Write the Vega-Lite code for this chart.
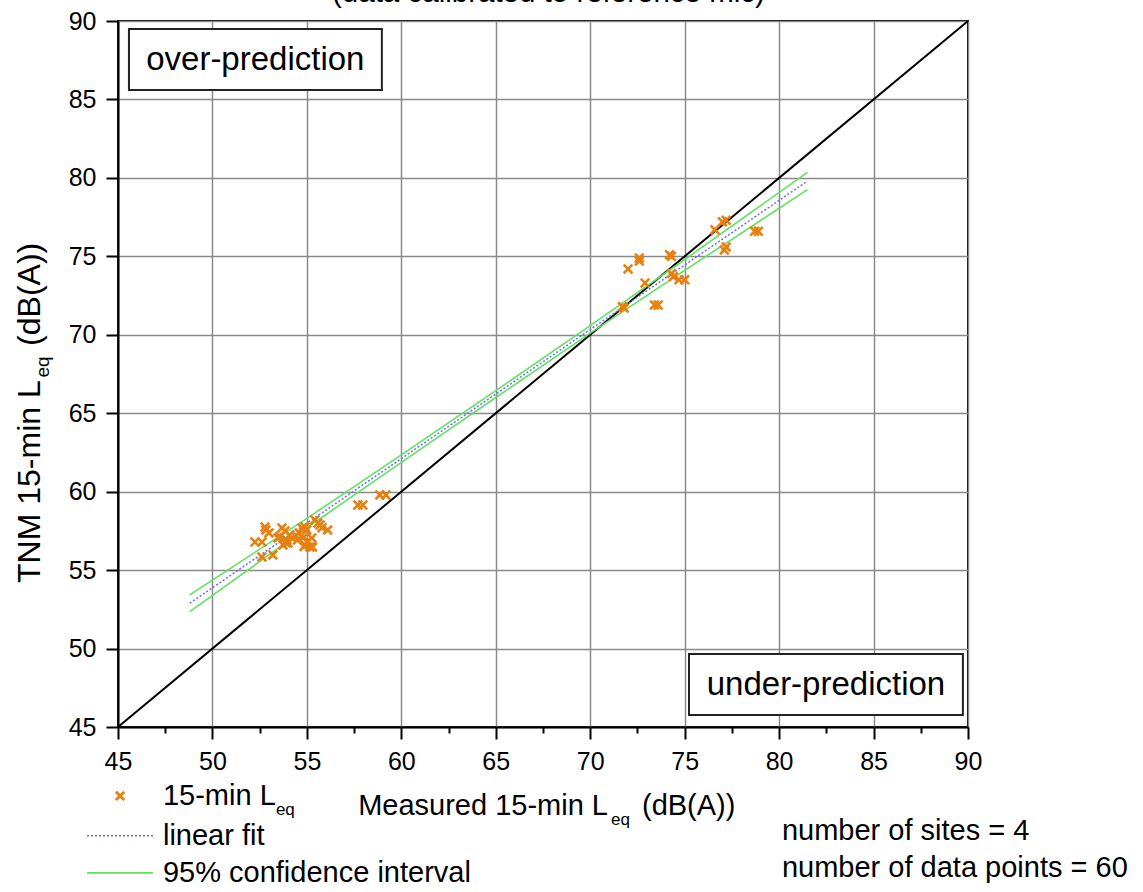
{
  "$schema": "https://vega.github.io/schema/vega-lite/v6.json",
  "width": 850,
  "height": 706,
  "autosize": {"type": "none"},
  "padding": {"left": 118, "top": 21, "right": 175, "bottom": 165},
  "background": "white",
  "config": {
    "view": {"stroke": "black", "strokeWidth": 2},
    "font": "Liberation Sans",
    "text": {"font": "Liberation Sans", "color": "black"}
  },
  "layer": [
    {
      "data": {"values": [{"x": 45, "y": 45}, {"x": 90, "y": 90}]},
      "mark": {"type": "line", "color": "black", "strokeWidth": 2},
      "encoding": {
        "x": {
          "field": "x", "type": "quantitative", "title": null,
          "scale": {"domain": [45, 90], "nice": false, "zero": false},
          "axis": {
            "title": null,
            "values": [45, 47.5, 50, 52.5, 55, 57.5, 60, 62.5, 65, 67.5, 70, 72.5, 75, 77.5, 80, 82.5, 85, 87.5, 90],
            "labelExpr": "datum.value % 5 === 0 ? datum.label : ''",
            "labelOverlap": false,
            "labelFlush": false,
            "labelFont": "Liberation Sans",
            "labelFontSize": 25,
            "labelColor": "black",
            "labelPadding": 10,
            "tickSize": {"condition": {"test": "datum.value % 5 === 0", "value": 12}, "value": 6},
            "tickColor": "black",
            "tickWidth": 2,
            "domainColor": "black",
            "domainWidth": 2,
            "grid": true,
            "gridColor": "#8a8a8a",
            "gridWidth": 1.5,
            "gridOpacity": {"condition": {"test": "datum.value % 5 === 0", "value": 1}, "value": 0}
          }
        },
        "y": {
          "field": "y", "type": "quantitative", "title": null,
          "scale": {"domain": [45, 90], "nice": false, "zero": false},
          "axis": {
            "title": null,
            "values": [45, 47.5, 50, 52.5, 55, 57.5, 60, 62.5, 65, 67.5, 70, 72.5, 75, 77.5, 80, 82.5, 85, 87.5, 90],
            "labelExpr": "datum.value % 5 === 0 ? datum.label : ''",
            "labelOverlap": false,
            "labelFlush": false,
            "labelFont": "Liberation Sans",
            "labelFontSize": 25,
            "labelColor": "black",
            "labelPadding": 10,
            "tickSize": {"condition": {"test": "datum.value % 5 === 0", "value": 12}, "value": 6},
            "tickColor": "black",
            "tickWidth": 2,
            "domainColor": "black",
            "domainWidth": 2,
            "grid": true,
            "gridColor": "#8a8a8a",
            "gridWidth": 1.5,
            "gridOpacity": {"condition": {"test": "datum.value % 5 === 0", "value": 1}, "value": 0}
          }
        }
      }
    },
    {
      "data": {"values": [
        {"x": 48.8, "y": 53.42, "b": "upper"}, {"x": 55, "y": 58.3, "b": "upper"}, {"x": 60, "y": 62.35, "b": "upper"},
        {"x": 65, "y": 66.44, "b": "upper"}, {"x": 70, "y": 70.58, "b": "upper"}, {"x": 75, "y": 74.8, "b": "upper"},
        {"x": 81.5, "y": 80.35, "b": "upper"},
        {"x": 48.8, "y": 52.36, "b": "lower"}, {"x": 55, "y": 57.7, "b": "lower"}, {"x": 60, "y": 61.87, "b": "lower"},
        {"x": 65, "y": 66.0, "b": "lower"}, {"x": 70, "y": 70.1, "b": "lower"}, {"x": 75, "y": 74.1, "b": "lower"},
        {"x": 81.5, "y": 79.25, "b": "lower"}
      ]},
      "mark": {"type": "line", "color": "#5fe35f", "strokeWidth": 1.6},
      "encoding": {
        "x": {"field": "x", "type": "quantitative", "title": null},
        "y": {"field": "y", "type": "quantitative", "title": null},
        "detail": {"field": "b"}
      }
    },
    {
      "data": {"values": [{"x": 48.8, "y": 52.89}, {"x": 81.5, "y": 79.8}]},
      "mark": {"type": "line", "color": "#6a6aff", "strokeWidth": 1.5, "strokeDash": [2, 2]},
      "encoding": {
        "x": {"field": "x", "type": "quantitative", "title": null},
        "y": {"field": "y", "type": "quantitative", "title": null}
      }
    },
    {
      "data": {"values": [
        {"x": 52.25, "y": 56.79}, {"x": 52.62, "y": 56.79}, {"x": 52.83, "y": 57.56}, {"x": 52.99, "y": 57.37},
        {"x": 52.78, "y": 57.75}, {"x": 53.68, "y": 57.69}, {"x": 53.84, "y": 57.5}, {"x": 53.47, "y": 57.05},
        {"x": 53.94, "y": 56.92}, {"x": 54.0, "y": 56.73}, {"x": 53.73, "y": 56.6}, {"x": 54.2, "y": 57.05},
        {"x": 54.4, "y": 57.2}, {"x": 54.74, "y": 57.69}, {"x": 54.9, "y": 57.75}, {"x": 54.79, "y": 57.05},
        {"x": 54.9, "y": 56.6}, {"x": 55.26, "y": 57.05}, {"x": 55.16, "y": 56.47}, {"x": 55.05, "y": 56.86},
        {"x": 55.42, "y": 58.2}, {"x": 55.58, "y": 58.0}, {"x": 55.7, "y": 57.88}, {"x": 56.1, "y": 57.56},
        {"x": 52.62, "y": 55.84}, {"x": 53.2, "y": 55.97}, {"x": 54.5, "y": 56.92}, {"x": 54.6, "y": 57.37},
        {"x": 54.1, "y": 57.24}, {"x": 54.99, "y": 57.56}, {"x": 55.3, "y": 56.47}, {"x": 54.85, "y": 56.5},
        {"x": 53.9, "y": 56.75}, {"x": 55.8, "y": 57.7}, {"x": 53.57, "y": 57.15},
        {"x": 57.7, "y": 59.15}, {"x": 57.96, "y": 59.15}, {"x": 58.86, "y": 59.79}, {"x": 59.18, "y": 59.79},
        {"x": 71.7, "y": 71.8}, {"x": 71.8, "y": 71.7}, {"x": 72.0, "y": 74.2}, {"x": 72.6, "y": 74.7},
        {"x": 72.6, "y": 74.9}, {"x": 72.9, "y": 73.3}, {"x": 73.4, "y": 71.9}, {"x": 73.6, "y": 71.9},
        {"x": 74.2, "y": 75.1}, {"x": 74.3, "y": 75.0}, {"x": 74.3, "y": 73.9}, {"x": 74.4, "y": 73.7},
        {"x": 74.7, "y": 73.5}, {"x": 75.0, "y": 73.5}, {"x": 76.6, "y": 76.7}, {"x": 77.0, "y": 77.2},
        {"x": 77.2, "y": 77.3}, {"x": 77.1, "y": 75.4}, {"x": 77.2, "y": 75.6}, {"x": 78.7, "y": 76.6},
        {"x": 78.9, "y": 76.6}
      ]},
      "mark": {"type": "point", "shape": "M-1,-1L1,1M-1,1L1,-1", "size": 75, "filled": false, "strokeWidth": 2.6, "color": "#e8800f", "opacity": 1},
      "encoding": {
        "x": {"field": "x", "type": "quantitative", "title": null},
        "y": {"field": "y", "type": "quantitative", "title": null}
      }
    },
    {
      "data": {"values": [{}]},
      "mark": {"type": "rect", "fill": "white", "stroke": "#222222", "strokeWidth": 2},
      "encoding": {
        "x": {"datum": 45.58, "type": "quantitative"}, "x2": {"datum": 58.97},
        "y": {"datum": 89.49, "type": "quantitative"}, "y2": {"datum": 85.6}
      }
    },
    {
      "data": {"values": [{}]},
      "mark": {"type": "rect", "fill": "white", "stroke": "#222222", "strokeWidth": 2},
      "encoding": {
        "x": {"datum": 75.23, "type": "quantitative"}, "x2": {"datum": 89.73},
        "y": {"datum": 49.66, "type": "quantitative"}, "y2": {"datum": 45.77}
      }
    },
    {
      "data": {"values": [{}]},
      "mark": {"type": "text", "text": "over-prediction", "fontSize": 33, "align": "center", "baseline": "alphabetic"},
      "encoding": {"x": {"datum": 52.27, "type": "quantitative"}, "y": {"datum": 86.88, "type": "quantitative"}}
    },
    {
      "data": {"values": [{}]},
      "mark": {"type": "text", "text": "under-prediction", "fontSize": 33, "align": "center", "baseline": "alphabetic"},
      "encoding": {"x": {"datum": 82.48, "type": "quantitative"}, "y": {"datum": 47.04, "type": "quantitative"}}
    },
    {
      "data": {"values": [{}]},
      "mark": {"type": "text", "text": "(data calibrated to reference mic)", "fontSize": 29.5, "align": "center", "baseline": "alphabetic"},
      "encoding": {"x": {"datum": 67.79, "type": "quantitative"}, "y": {"datum": 91.21, "type": "quantitative"}}
    },
    {
      "data": {"values": [{}]},
      "mark": {"type": "text", "text": "Measured 15-min L", "fontSize": 29, "align": "right", "baseline": "alphabetic"},
      "encoding": {"x": {"datum": 70.94, "type": "quantitative"}, "y": {"datum": 39.39, "type": "quantitative"}}
    },
    {
      "data": {"values": [{}]},
      "mark": {"type": "text", "text": "eq", "fontSize": 17, "align": "left", "baseline": "alphabetic"},
      "encoding": {"x": {"datum": 71.1, "type": "quantitative"}, "y": {"datum": 38.76, "type": "quantitative"}}
    },
    {
      "data": {"values": [{}]},
      "mark": {"type": "text", "text": "(dB(A))", "fontSize": 29, "align": "left", "baseline": "alphabetic"},
      "encoding": {"x": {"datum": 72.74, "type": "quantitative"}, "y": {"datum": 39.39, "type": "quantitative"}}
    },
    {
      "data": {"values": [{}]},
      "mark": {"type": "text", "text": "TNM 15-min L", "fontSize": 32, "angle": 270, "align": "left", "baseline": "alphabetic"},
      "encoding": {"x": {"datum": 40.87, "type": "quantitative"}, "y": {"datum": 54.18, "type": "quantitative"}}
    },
    {
      "data": {"values": [{}]},
      "mark": {"type": "text", "text": "eq", "fontSize": 19, "angle": 270, "align": "left", "baseline": "alphabetic"},
      "encoding": {"x": {"datum": 41.35, "type": "quantitative"}, "y": {"datum": 67.28, "type": "quantitative"}}
    },
    {
      "data": {"values": [{}]},
      "mark": {"type": "text", "text": "(dB(A))", "fontSize": 32, "angle": 270, "align": "left", "baseline": "alphabetic"},
      "encoding": {"x": {"datum": 40.87, "type": "quantitative"}, "y": {"datum": 69.29, "type": "quantitative"}}
    },
    {
      "data": {"values": [{}]},
      "mark": {"type": "point", "shape": "M-1,-1L1,1M-1,1L1,-1", "size": 70, "filled": false, "strokeWidth": 2.8, "color": "#e8800f", "opacity": 1},
      "encoding": {"x": {"datum": 45.11, "type": "quantitative"}, "y": {"datum": 40.61, "type": "quantitative"}}
    },
    {
      "data": {"values": [{}]},
      "mark": {"type": "text", "text": "15-min L", "fontSize": 29, "align": "left", "baseline": "alphabetic"},
      "encoding": {"x": {"datum": 47.38, "type": "quantitative"}, "y": {"datum": 40.03, "type": "quantitative"}}
    },
    {
      "data": {"values": [{}]},
      "mark": {"type": "text", "text": "eq", "fontSize": 17, "align": "left", "baseline": "alphabetic"},
      "encoding": {"x": {"datum": 53.36, "type": "quantitative"}, "y": {"datum": 39.39, "type": "quantitative"}}
    },
    {
      "data": {"values": [{}]},
      "mark": {"type": "rule", "color": "#6a6aff", "strokeWidth": 1.5, "strokeDash": [2, 2]},
      "encoding": {"x": {"datum": 43.36, "type": "quantitative"}, "x2": {"datum": 46.86}, "y": {"datum": 38.07, "type": "quantitative"}}
    },
    {
      "data": {"values": [{}]},
      "mark": {"type": "text", "text": "linear fit", "fontSize": 29, "align": "left", "baseline": "alphabetic"},
      "encoding": {"x": {"datum": 47.38, "type": "quantitative"}, "y": {"datum": 37.48, "type": "quantitative"}}
    },
    {
      "data": {"values": [{}]},
      "mark": {"type": "rule", "color": "#5fe35f", "strokeWidth": 1.6},
      "encoding": {"x": {"datum": 43.36, "type": "quantitative"}, "x2": {"datum": 46.86}, "y": {"datum": 35.7, "type": "quantitative"}}
    },
    {
      "data": {"values": [{}]},
      "mark": {"type": "text", "text": "95% confidence interval", "fontSize": 29, "align": "left", "baseline": "alphabetic"},
      "encoding": {"x": {"datum": 47.38, "type": "quantitative"}, "y": {"datum": 35.12, "type": "quantitative"}}
    },
    {
      "data": {"values": [{}]},
      "mark": {"type": "text", "text": "number of sites = 4", "fontSize": 29, "align": "left", "baseline": "alphabetic"},
      "encoding": {"x": {"datum": 80.15, "type": "quantitative"}, "y": {"datum": 37.8, "type": "quantitative"}}
    },
    {
      "data": {"values": [{}]},
      "mark": {"type": "text", "text": "number of data points = 60", "fontSize": 29, "align": "left", "baseline": "alphabetic"},
      "encoding": {"x": {"datum": 80.15, "type": "quantitative"}, "y": {"datum": 35.44, "type": "quantitative"}}
    }
  ]
}
